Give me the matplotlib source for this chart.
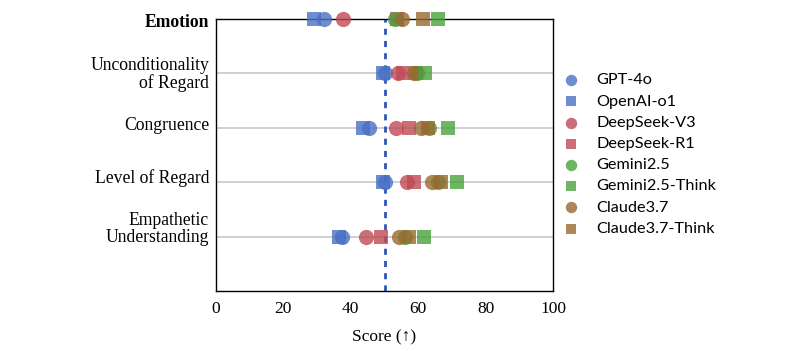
import matplotlib
matplotlib.use("Agg")
import matplotlib.pyplot as plt

# dimensions, top to bottom
dims = ["Emotion", "Unconditionality\nof Regard", "Congruence",
        "Level of Regard", "Empathetic\nUnderstanding"]

models = ["GPT-4o", "OpenAI-o1", "DeepSeek-V3", "DeepSeek-R1",
          "Gemini2.5", "Gemini2.5-Think", "Claude3.7", "Claude3.7-Think"]

# scores per model, one per dimension (same order as dims)
gpt4o = [31.9, 50.1, 45.5, 50.1, 37.5]
openai_o1 = [29.2, 49.5, 43.7, 49.7, 36.6]
deepseek_v3 = [37.8, 53.9, 53.3, 56.6, 44.4]
deepseek_r1 = [53.8, 55.6, 57.3, 58.8, 48.9]
gemini25 = [53.1, 59.6, 63.1, 66.0, 56.1]
gemini25_think = [66.0, 62.1, 68.9, 71.6, 61.6]
claude37 = [55.1, 58.9, 60.7, 64.0, 54.4]
claude37_think = [61.3, 59.4, 63.0, 66.8, 57.4]

scores = [gpt4o, openai_o1, deepseek_v3, deepseek_r1,
          gemini25, gemini25_think, claude37, claude37_think]

colors = ["#4a70c4", "#4a70c4", "#c04a55", "#c04a55",
          "#48a23c", "#48a23c", "#986a30", "#986a30"]
markers = ["o", "s", "o", "s", "o", "s", "o", "s"]

baseline = 50
ticks_x = [0, 20, 40, 60, 80, 100]

fig = plt.figure(figsize=(7.95, 3.51), dpi=100)
ax = fig.add_axes([0.2717, 0.1709, 0.4239, 0.775])

ypos = list(range(len(dims)))
for y in ypos:
    ax.axhline(y, color="#c8c8c8", lw=1.2, zorder=0)

ax.axvline(baseline, color="#2f55b5", lw=2, ls=(0, (2.2, 2.2)), zorder=1)

# draw order: circles under squares roughly as in reference
order = [1, 0, 2, 3, 4, 6, 7, 5]
for i in order:
    ax.scatter(scores[i], ypos, marker=markers[i], s=100 if markers[i] == "s" else 120,
               color=colors[i], alpha=0.8, linewidths=0, zorder=3,
               clip_on=False, label=models[i])

ax.set_xlim(0, 100)
ax.set_ylim(5, 0)
ax.set_xticks(ticks_x)
ax.set_yticks(ypos)
ax.set_yticklabels([])
# row labels drawn as text so they can be nudged slightly like the original
nudges = [-2.5, -0.7, 1.5, 3, 5.5]
for y, name, dy in zip(ypos, dims, nudges):
    ax.annotate(name, xy=(0, y), xycoords=("axes fraction", "data"),
                xytext=(-5, dy), textcoords="offset points",
                ha="right", va="center", family="Liberation Serif",
                fontsize=12.7, linespacing=1.05,
                fontweight="bold" if y == 0 else "normal",
                annotation_clip=False)
for lab in ax.get_xticklabels():
    lab.set_family("Liberation Serif")
    lab.set_fontsize(12.5)
ax.tick_params(axis="y", length=0)
ax.tick_params(axis="x", length=0, pad=7)
ax.set_xlabel("Score (↑)", family=["Liberation Serif", "DejaVu Serif"],
              fontsize=12.5, labelpad=9)
for sp in ax.spines.values():
    sp.set_linewidth(1.0)

handles, labels = ax.get_legend_handles_labels()
hmap = dict(zip(labels, handles))
leg = fig.legend([hmap[m] for m in models], models, loc="center left",
                 bbox_to_anchor=(0.679, 0.56), frameon=False,
                 prop={"family": "Lato", "size": 11.7},
                 handletextpad=0.6, labelspacing=0.42, scatterpoints=1,
                 markerscale=0.75)

fig.savefig("out.png", dpi=100)
